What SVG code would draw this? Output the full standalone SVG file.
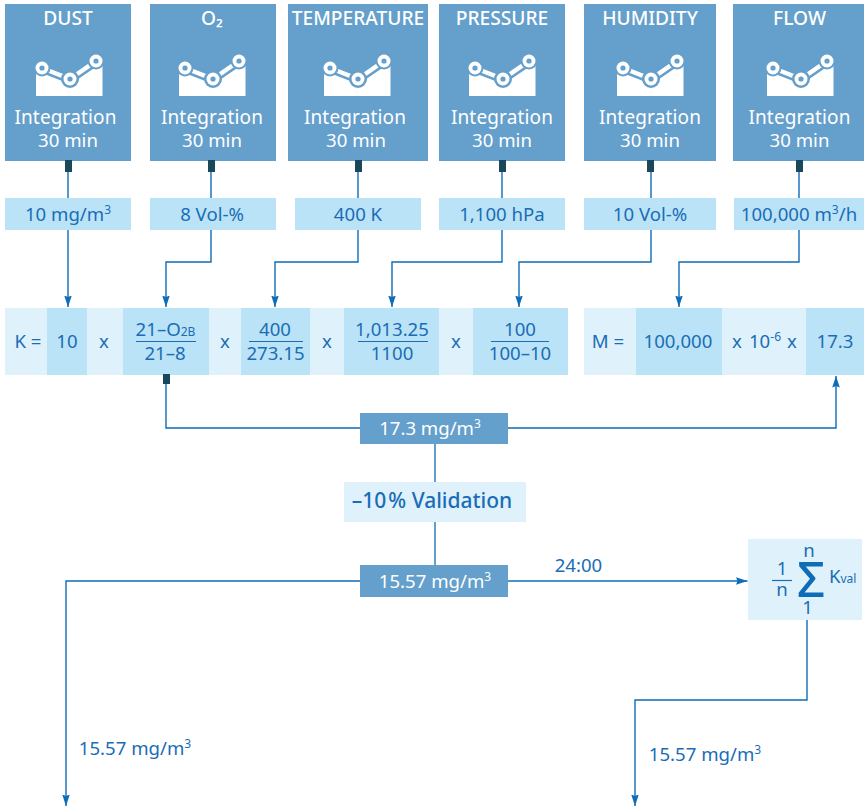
<svg xmlns="http://www.w3.org/2000/svg" width="864" height="810" viewBox="0 0 864 810">
<style>
text{font-family:"Noto Sans","Open Sans","DejaVu Sans",sans-serif;text-anchor:middle}
.box{fill:#659fcb}
.val{fill:#bbe3f8}
.lt{fill:#dff2fb}
.hd{fill:#fff;font-size:19.200px;font-weight:500}
.w{fill:#fff;font-size:18.600px}
.i{fill:#fff;font-size:19px;letter-spacing:.15px}
.b{fill:#1a6db5;font-size:18.600px}
.stub{fill:#19485a}
.c{fill:none;stroke:#0f6cb7;stroke-width:1.4}
.g{fill:none;stroke:#659fcb;stroke-width:2}
.bar{stroke:#1a6db5;stroke-width:1.200}
.s{font-size:12px}
</style>
<defs>
<marker id="a" markerUnits="userSpaceOnUse" markerWidth="12" markerHeight="12" refX="11.500" refY="6" orient="auto"><path d="M0 2.200L11.500 6L0 9.800L1.500 6Z" fill="#0f6cb7"/></marker>
<g id="icon">
<path d="M-32 15L-26 13L2 24L28 6L34.500 10V41H-32Z" fill="#fff"/>
<path d="M-26 13L2 24L28 6" fill="none" stroke="#659fcb" stroke-width="9.500"/>
<path d="M-26 13L2 24L28 6" fill="none" stroke="#fff" stroke-width="4.500"/>
<g fill="#659fcb"><circle cx="-26" cy="13" r="8.500"/><circle cx="2" cy="24" r="9"/><circle cx="28" cy="6" r="8.500"/></g>
<g fill="#fff"><circle cx="-26" cy="13" r="6.500"/><circle cx="2" cy="24" r="6.500"/><circle cx="28" cy="6" r="6.500"/></g>
<g fill="#659fcb"><circle cx="-26" cy="13" r="2.600"/><circle cx="2" cy="24" r="2.600"/><circle cx="28" cy="6" r="2.600"/></g>
</g>
</defs>
<rect width="864" height="810" fill="#fff"/>
<g id="connectors">
<path class="c" d="M68 172V198M68 230V307" marker-end="url(#a)"/>
<path class="c" d="M211 172V198M211 230V262H166V307" marker-end="url(#a)"/>
<path class="c" d="M358 172V198M358 230V262H275V307" marker-end="url(#a)"/>
<path class="c" d="M502 172V198M502 230V262H392V307" marker-end="url(#a)"/>
<path class="c" d="M651 172V198M651 230V262H519V307" marker-end="url(#a)"/>
<path class="c" d="M799 172V198M799 230V262H679V307" marker-end="url(#a)"/>
<path class="c" d="M166 384V428H360"/>
<path class="c" d="M508 428H836V376" marker-end="url(#a)"/>
<path class="g" d="M435 444V482M435 522V565"/>
<path class="c" d="M360 581H66V806" marker-end="url(#a)"/>
<path class="c" d="M508 581H747.500" marker-end="url(#a)"/>
<path class="c" d="M807 620V700H635V806" marker-end="url(#a)"/>
</g>
<g id="dust"><rect class="box" x="5" y="4" width="126" height="157"/><text class="hd" x="68" y="25">DUST</text><use href="#icon" x="68" y="55"/><text class="i" x="65.500" y="124">Integration</text><text class="w" x="68" y="147">30 min</text><rect class="stub" x="65" y="160" width="7" height="12"/></g>
<g id="o2"><rect class="box" x="150" y="4" width="126" height="157"/><text class="hd" x="212" y="25">O₂</text><use href="#icon" x="211" y="55"/><text class="i" x="212" y="124">Integration</text><text class="w" x="212" y="147">30 min</text><rect class="stub" x="208" y="160" width="7" height="12"/></g>
<g id="temperature"><rect class="box" x="288" y="4" width="140" height="157"/><text class="hd" x="358" y="25">TEMPERATURE</text><use href="#icon" x="356" y="55"/><text class="i" x="355" y="124">Integration</text><text class="w" x="356" y="147">30 min</text><rect class="stub" x="355" y="160" width="7" height="12"/></g>
<g id="pressure"><rect class="box" x="439" y="4" width="126" height="157"/><text class="hd" x="502" y="25">PRESSURE</text><use href="#icon" x="501" y="55"/><text class="i" x="502" y="124">Integration</text><text class="w" x="502" y="147">30 min</text><rect class="stub" x="499" y="160" width="7" height="12"/></g>
<g id="humidity"><rect class="box" x="584" y="4" width="132" height="157"/><text class="hd" x="650" y="25">HUMIDITY</text><use href="#icon" x="649" y="55"/><text class="i" x="650" y="124">Integration</text><text class="w" x="650" y="147">30 min</text><rect class="stub" x="647" y="160" width="7" height="12"/></g>
<g id="flow"><rect class="box" x="733" y="4" width="131" height="157"/><text class="hd" x="799.500" y="25">FLOW</text><use href="#icon" x="799" y="55"/><text class="i" x="799.500" y="124">Integration</text><text class="w" x="799.500" y="147">30 min</text><rect class="stub" x="796" y="160" width="7" height="12"/></g>

<g id="v-dust"><rect class="val" x="5" y="198" width="126" height="32"/><text class="b" x="68" y="221">10 mg/m<tspan class="s" dy="-7">3</tspan></text></g>
<g id="v-o2"><rect class="val" x="150" y="198" width="126" height="32"/><text class="b" x="212" y="221">8 Vol-%</text></g>
<g id="v-temp"><rect class="val" x="295" y="198" width="126" height="32"/><text class="b" x="358" y="221">400 K</text></g>
<g id="v-press"><rect class="val" x="439" y="198" width="126" height="32"/><text class="b" x="502" y="221">1,100 hPa</text></g>
<g id="v-hum"><rect class="val" x="584" y="198" width="132" height="32"/><text class="b" x="650" y="221">10 Vol-%</text></g>
<g id="v-flow"><rect class="val" x="734" y="198" width="130" height="32"/><text class="b" x="799" y="221">100,000 m<tspan class="s" dy="-7">3</tspan><tspan dy="7">/h</tspan></text></g>

<g id="k-formula">
<rect class="lt" x="5" y="308" width="563" height="67"/>
<rect class="val" x="47" y="308" width="40" height="67"/>
<rect class="val" x="123" y="308" width="86" height="67"/>
<rect class="val" x="241" y="308" width="69" height="67"/>
<rect class="val" x="344" y="308" width="95" height="67"/>
<rect class="val" x="473" y="308" width="95" height="67"/>
<text class="b" x="28" y="348">K =</text>
<text class="b" x="67" y="348">10</text>
<text class="b" x="104" y="348">x</text>
<text class="b" x="165.500" y="336">21–O<tspan class="s">2B</tspan></text>
<line class="bar" x1="136" y1="341.500" x2="196" y2="341.500"/>
<text class="b" x="165" y="360">21–8</text>
<text class="b" x="225" y="348">x</text>
<text class="b" x="275" y="336">400</text>
<line class="bar" x1="249" y1="341.500" x2="303" y2="341.500"/>
<text class="b" x="275.500" y="360">273.15</text>
<text class="b" x="327" y="348">x</text>
<text class="b" x="392" y="336">1,013.25</text>
<line class="bar" x1="358" y1="341.500" x2="428" y2="341.500"/>
<text class="b" x="392" y="360">1100</text>
<text class="b" x="456" y="348">x</text>
<text class="b" x="520" y="336">100</text>
<line class="bar" x1="491" y1="341.500" x2="549" y2="341.500"/>
<text class="b" x="520" y="360">100–10</text>
<rect class="stub" x="163" y="374" width="7" height="10"/>
</g>
<g id="m-formula">
<rect class="lt" x="584" y="308" width="280" height="67"/>
<rect class="val" x="636" y="308" width="86" height="67"/>
<rect class="val" x="806" y="308" width="58" height="67"/>
<text class="b" x="608" y="348">M =</text>
<text class="b" x="678" y="348">100,000</text>
<text class="b" x="737" y="348">x</text>
<text class="b" x="765" y="348">10<tspan class="s" dy="-7">-6</tspan></text>
<text class="b" x="792" y="348">x</text>
<text class="b" x="835" y="348">17.3</text>
</g>
<g id="k-result"><rect class="box" x="360" y="413" width="148" height="31"/><text class="w" x="430" y="435">17.3 mg/m<tspan class="s" dy="-7">3</tspan></text></g>
<g id="validation"><rect class="lt" x="344" y="482" width="182" height="40"/><text x="432" y="508" font-size="21" font-weight="500" fill="#1a6db5">–10<tspan dx="2">%</tspan> Validation</text></g>
<g id="val-result"><rect class="box" x="360" y="565" width="148" height="32"/><text class="w" x="435" y="588">15.57 mg/m<tspan class="s" dy="-7">3</tspan></text></g>
<text class="b" x="578.500" y="572">24:00</text>
<g id="average"><rect class="lt" x="748" y="539" width="114" height="81"/>
<text class="b" x="782" y="575">1</text>
<line class="bar" x1="772" y1="580.500" x2="792" y2="580.500"/>
<text class="b" x="782" y="596">n</text>
<text class="b" x="809" y="557">n</text>
<text x="811" y="597" font-size="49" font-weight="500" fill="#0f6cb7">Σ</text>
<text class="b" x="807.500" y="614">1</text>
<text class="b" x="829" y="583" style="text-anchor:start">K<tspan class="s">val</tspan></text>
</g>
<text class="b" x="135" y="755">15.57 mg/m<tspan class="s" dy="-7">3</tspan></text>
<text class="b" x="705" y="761">15.57 mg/m<tspan class="s" dy="-7">3</tspan></text>
</svg>
